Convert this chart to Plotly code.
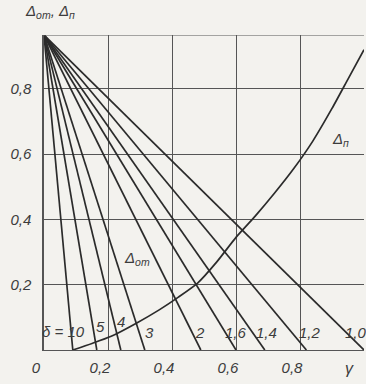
import plotly.graph_objects as go

# --- data ---
Y_TOP = 0.965  # common starting point of the delta_ot lines (x = 0)

delta_labels = ["10", "5", "4", "3", "2", "1,6", "1,4", "1,2", "1,0"]
delta_x_intercepts = [0.09, 0.165, 0.24, 0.315, 0.49, 0.60, 0.69, 0.82, 1.0]

dn_x = [0.09, 0.15, 0.21, 0.29, 0.36, 0.42, 0.48, 0.54, 0.60, 0.66,
        0.72, 0.78, 0.84, 0.90, 0.95, 1.0]
dn_y = [0.0, 0.02, 0.042, 0.083, 0.123, 0.162, 0.205, 0.27, 0.345, 0.41,
        0.48, 0.555, 0.64, 0.74, 0.83, 0.92]

x_ticks = [0, 0.2, 0.4, 0.6, 0.8]
x_ticktext = ["0", "0,2", "0,4", "0,6", "0,8"]
y_ticks = [0.2, 0.4, 0.6, 0.8]
y_ticktext = ["0,2", "0,4", "0,6", "0,8"]

# label positions for the delta values along the bottom
delta_label_x = [0.062, 0.175, 0.24, 0.33, 0.4875, 0.60, 0.694, 0.83, 0.975]
delta_label_y = [0.058, 0.072, 0.086, 0.055, 0.055, 0.055, 0.055, 0.055, 0.055]

INK = "#2b2b2b"
TXT = "#3c3c3c"
GRID = "#555555"
FONT = "Liberation Sans Narrow, Liberation Sans, Arial Narrow, sans-serif"

fig = go.Figure()

# 1) delta_ot family of straight lines
for lab, a in zip(delta_labels, delta_x_intercepts):
    fig.add_trace(go.Scatter(
        x=[0, a], y=[Y_TOP, 0],
        mode="lines", name=lab,
        line=dict(color=INK, width=1.7),
        hoverinfo="skip", showlegend=False
    ))

# 2) delta_n curve
fig.add_trace(go.Scatter(
    x=dn_x, y=dn_y,
    mode="lines", name="Δп",
    line=dict(color=INK, width=1.7, shape="spline", smoothing=0.6),
    hoverinfo="skip", showlegend=False
))

# 3) top border line (grid at Y_TOP)
fig.add_shape(type="line", xref="x", yref="y",
              x0=0, x1=1.01, y0=Y_TOP, y1=Y_TOP,
              line=dict(color=GRID, width=1))

# 4) annotations
annotations = []
txt_font = dict(family=FONT, size=15, color=TXT, style="italic")

for lab, lx, ly in zip(delta_labels, delta_label_x, delta_label_y):
    text = "δ = 10" if lab == "10" else lab
    annotations.append(dict(x=lx, y=ly, xref="x", yref="y", text=text,
                            showarrow=False, font=txt_font))

annotations += [
    dict(x=0.925, y=0.645, xref="x", yref="y",
         text="Δ<sub>п</sub>", showarrow=False, font=txt_font),
    dict(x=0.29, y=0.28, xref="x", yref="y",
         text="Δ<sub>от</sub>", showarrow=False, font=txt_font),
    # outside the plot area -> paper coordinates
    dict(x=0.02, y=1.075, xref="paper", yref="paper",
         xanchor="center", yanchor="middle",
         text="Δ<sub>от</sub>, Δ<sub>п</sub>", showarrow=False, font=txt_font),
    dict(x=0.955, y=-0.06, xref="paper", yref="paper",
         xanchor="center", yanchor="middle",
         text="γ", showarrow=False,
         font=dict(family=FONT, size=16, color=TXT, style="italic")),
]

fig.update_xaxes(
    range=[0, 1.0], tickvals=x_ticks, ticktext=x_ticktext,
    showgrid=True, gridcolor=GRID, gridwidth=1,
    showline=True, linecolor=GRID, linewidth=1.2,
    zeroline=False, ticks="", ticklabelshift=-8, ticklabelstandoff=4,
    tickfont=txt_font, fixedrange=True
)
fig.update_yaxes(
    range=[0, Y_TOP], tickvals=y_ticks, ticktext=y_ticktext,
    showgrid=True, gridcolor=GRID, gridwidth=1,
    showline=True, linecolor=GRID, linewidth=1.5,
    zeroline=False, ticks="", ticklabelstandoff=8,
    tickfont=txt_font, fixedrange=True
)

fig.update_layout(
    width=366, height=384,
    margin=dict(l=44, r=2, t=35, b=34),
    paper_bgcolor="#f3f2ee",
    plot_bgcolor="#f3f2ee",
    annotations=annotations,
    showlegend=False
)

# drop the browser's default body margin so the figure fills the window
fig.write_html("out.html", config={"displayModeBar": False},
               post_script="document.body.style.margin='0';")
